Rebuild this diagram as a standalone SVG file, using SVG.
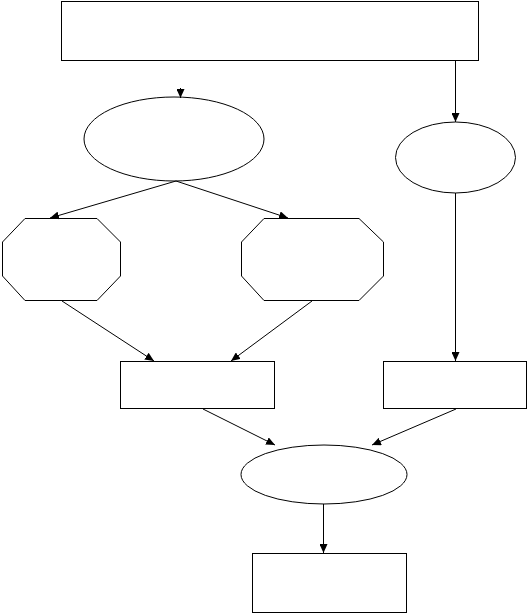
<svg xmlns="http://www.w3.org/2000/svg" width="528" height="615" viewBox="0 0 528 615">
<style>
.n{fill:#fff;stroke:#000;stroke-width:1}
.c{fill:none;stroke:#000;stroke-width:1;marker-end:url(#ah)}
</style>
<defs>
<marker id="ah" markerUnits="userSpaceOnUse" markerWidth="10" markerHeight="8" refX="9" refY="4" orient="auto">
<path d="M0,0 L9,4 L0,8 Z" fill="#000"/>
</marker>
</defs>
<rect width="528" height="615" fill="#fff"/>
<g id="top"><rect class="n" x="61.5" y="1.5" width="417" height="59"/></g>
<g id="ellipse1"><ellipse class="n" cx="174" cy="139" rx="90" ry="42"/></g>
<g id="ellipse2"><ellipse class="n" cx="455.5" cy="157.5" rx="60" ry="35.5"/></g>
<g id="oct1"><polygon class="n" points="25,218.5 97,218.5 120.5,242 120.5,276 97,300.5 25,300.5 2.5,276 2.5,242"/></g>
<g id="oct2"><polygon class="n" points="264,218.5 359,218.5 383.5,242 383.5,276 359,300.5 264,300.5 241.5,276 241.5,242"/></g>
<g id="rect2"><rect class="n" x="120.5" y="361.5" width="154" height="47"/></g>
<g id="rect3"><rect class="n" x="383.5" y="361.5" width="143" height="47"/></g>
<g id="ellipse3"><ellipse class="n" cx="324" cy="474.5" rx="83" ry="29.5"/></g>
<g id="rect4"><rect class="n" x="252.5" y="553.5" width="154" height="59"/></g>
<g id="connectors">
<line class="c" x1="180.5" y1="88" x2="180.5" y2="98"/>
<line class="c" x1="455.5" y1="61" x2="455.5" y2="122"/>
<line class="c" x1="176" y1="181" x2="50" y2="218"/>
<line class="c" x1="176" y1="181" x2="288" y2="218"/>
<line class="c" x1="62" y1="301" x2="154" y2="361"/>
<line class="c" x1="312" y1="301" x2="231" y2="361"/>
<line class="c" x1="455.5" y1="193" x2="455.5" y2="361"/>
<line class="c" x1="203" y1="409" x2="275" y2="445"/>
<line class="c" x1="456" y1="409" x2="372" y2="445"/>
<line class="c" x1="323.5" y1="504" x2="323.5" y2="553"/>
</g>
</svg>
